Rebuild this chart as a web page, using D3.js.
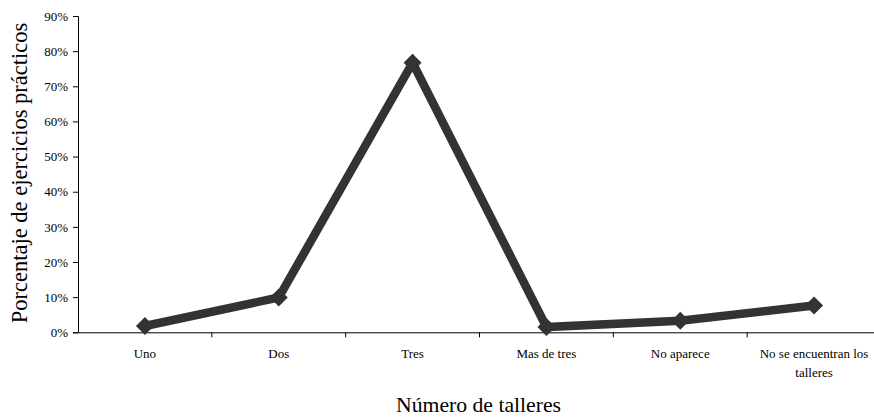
<!DOCTYPE html>
<html><head><meta charset="utf-8">
<script src="https://cdn.jsdelivr.net/npm/d3@7"></script>
<style>body{margin:0;background:#fff}svg{display:block}text{font-family:"Liberation Serif","Times New Roman",serif !important;fill:#000}</style>
</head><body><svg id="c" width="874" height="417"></svg>
<script>
const categories = ["Uno","Dos","Tres","Mas de tres","No aparece","No se encuentran los talleres"];
const values = [0.018, 0.099, 0.767, 0.015, 0.033, 0.076];
const yTicks = [0,0.1,0.2,0.3,0.4,0.5,0.6,0.7,0.8,0.9];

(function(){
const FONT = "Liberation Serif";
const svg = d3.select("#c");
const mLeft = 78, mRight = 881, mTop = 16, mBottom = 332.3;
const x = d3.scaleBand().domain(categories).range([mLeft, mRight]);
const y = d3.scaleLinear().domain([0, 0.9]).range([mBottom, mTop]);

const yAxis = svg.append("g").attr("transform", `translate(${mLeft},0)`)
  .call(d3.axisLeft(y).tickValues(yTicks).tickFormat(d3.format(".0%")).tickSize(5).tickPadding(5));
yAxis.attr("font-family", FONT);
yAxis.selectAll("text").attr("font-family", FONT).style("font-size","13px");
yAxis.selectAll("line,path").attr("stroke","#000");

const xAxis = svg.append("g").attr("transform", `translate(0,${mBottom})`)
  .call(d3.axisBottom(x).tickSize(0).tickFormat(""));
xAxis.select("path").attr("stroke","#000");
svg.append("g").selectAll("line").data(categories.slice(1)).join("line")
  .attr("x1", d => x(d)).attr("x2", d => x(d))
  .attr("y1", mBottom).attr("y2", mBottom + 5).attr("stroke","#000");

const labelWidth = x.bandwidth() - 4;
const lg = svg.append("g").attr("font-family", FONT);
categories.forEach(c => {
  const cx = x(c) + x.bandwidth()/2;
  const t = lg.append("text").attr("x", cx).attr("y", mBottom + 26)
    .attr("text-anchor","middle").attr("font-family", FONT).style("font-size","13px");
  const words = c.split(" ");
  let line = [], tspan = t.append("tspan").attr("x", cx).attr("dy", 0);
  words.forEach(w => {
    line.push(w);
    tspan.text(line.join(" "));
    if (tspan.node().getComputedTextLength() > labelWidth && line.length > 1) {
      line.pop(); tspan.text(line.join(" "));
      line = [w];
      tspan = t.append("tspan").attr("x", cx).attr("dy", "1.4em").text(w);
    }
  });
});

const lineGen = d3.line().x((d,i) => x(categories[i]) + x.bandwidth()/2).y(d => y(d));
svg.append("path").datum(values).attr("d", lineGen).attr("fill","none")
  .attr("stroke","#333").attr("stroke-width", 8.5).attr("stroke-linejoin","miter");

svg.append("g").selectAll("path").data(values).join("path")
  .attr("transform", (d,i) => `translate(${x(categories[i]) + x.bandwidth()/2},${y(d)})`)
  .attr("d", "M0,-9L9,0L0,9L-9,0Z").attr("fill","#333");

svg.append("text").attr("transform", `translate(27,173) rotate(-90)`)
  .attr("text-anchor","middle").attr("font-family", FONT).style("font-size","22.5px").text("Porcentaje de ejercicios prácticos");
svg.append("text").attr("x", 478.5).attr("y", 411.5)
  .attr("text-anchor","middle").attr("font-family", FONT).style("font-size","21.7px").text("Número de talleres");
})();
</script></body></html>
